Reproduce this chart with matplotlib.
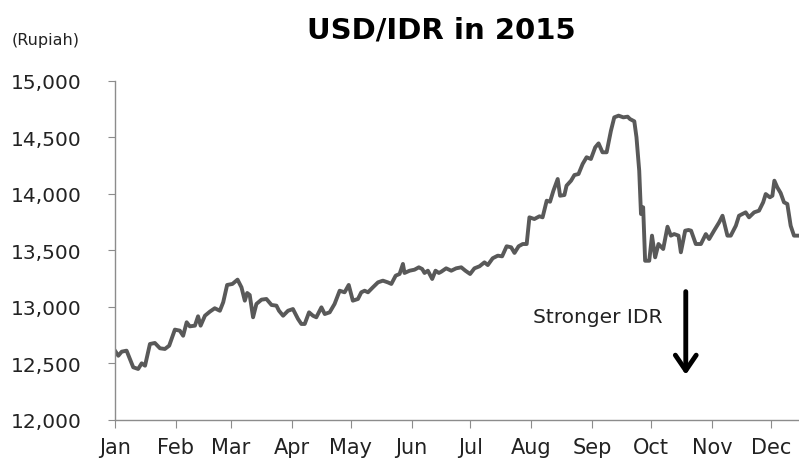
import matplotlib
matplotlib.use("Agg")
import matplotlib.pyplot as plt

# day of year (0 = 1 Jan 2015) and USD/IDR
days = [0, 1.7, 3.4, 5.9, 7.6, 9.3, 11.8, 13.6, 15.3, 17.8, 20.3, 22.9, 25.4, 27.6,
        30.5, 33.0, 34.7, 36.5, 38.1, 40.7, 42.3, 43.6, 45.8, 48.3, 50.8, 53.4, 55.1,
        57.1, 59.8, 62.4, 64.4, 66.1, 67.3, 68.6, 70.3, 72.0, 74.6, 77.1, 79.7, 82.2,
        83.5, 85.6, 88.1, 90.6, 93.2, 94.9, 96.6, 98.8, 100.8, 102.5, 105.1, 106.8,
        109.3, 111.8, 114.4, 116.9, 119.0, 121.1, 123.7, 125.4, 127.1, 128.8, 131.3,
        133.9, 136.4, 138.9, 140.7, 142.9, 144.9, 146.6, 147.4, 150.0, 152.5, 154.7,
        156.4, 157.6, 159.3, 161.5, 163.2, 164.9, 166.1, 168.6, 171.2, 173.7, 176.3,
        178.4, 180.8, 183.0, 185.6, 188.1, 189.8, 192.3, 194.9, 197.1, 199.4, 201.7,
        203.4, 205.5, 207.6, 209.6, 211.0, 213.5, 216.1, 217.7, 219.8, 221.5, 223.2,
        225.4, 226.6, 228.8, 229.9, 232.2, 233.9, 236.0, 238.1, 240.1, 242.3, 244.5,
        246.2, 248.2, 250.3, 252.5, 254.2, 256.4, 258.8, 261.0, 262.2, 264.4, 265.5,
        266.9, 267.8, 268.9, 269.9, 272.0, 273.4, 275.0, 276.7, 279.1, 281.3, 283.0,
        284.7, 286.9, 288.1, 290.3, 292.0, 293.3, 295.7, 298.3, 300.8, 302.5, 305.0,
        307.6, 309.3, 311.8, 313.5, 316.1, 317.7, 321.1, 322.8, 325.4, 327.9, 330.0,
        331.3, 333.4, 334.7, 335.7, 337.2, 338.9, 340.6, 342.3, 344.0, 345.7, 347.9]
usd_idr = [12613, 12568, 12604, 12613, 12540, 12466, 12451, 12501, 12480, 12672, 12681,
           12634, 12628, 12657, 12799, 12790, 12745, 12864, 12828, 12834, 12917, 12834,
           12922, 12958, 12988, 12966, 13041, 13194, 13203, 13241, 13173, 13055, 13123,
           13105, 12908, 13026, 13064, 13070, 13017, 13011, 12966, 12922, 12966, 12981,
           12893, 12849, 12849, 12952, 12922, 12908, 12996, 12937, 12952, 13026, 13143,
           13129, 13194, 13055, 13070, 13129, 13143, 13129, 13173, 13217, 13232, 13217,
           13203, 13276, 13291, 13380, 13300, 13320, 13329, 13350, 13335, 13300, 13320,
           13247, 13320, 13300, 13311, 13341, 13320, 13341, 13350, 13320, 13291, 13341,
           13359, 13394, 13370, 13430, 13453, 13447, 13536, 13527, 13477, 13536, 13556,
           13556, 13792, 13777, 13801, 13792, 13939, 13930, 14027, 14131, 13983, 13989,
           14072, 14116, 14166, 14175, 14264, 14323, 14308, 14411, 14446, 14367, 14367,
           14558, 14676, 14691, 14676, 14682, 14661, 14641, 14500, 14204, 13821, 13881,
           13408, 13408, 13630, 13438, 13556, 13512, 13709, 13630, 13644, 13630, 13483,
           13674, 13680, 13674, 13556, 13556, 13644, 13600, 13674, 13748, 13806, 13630,
           13630, 13718, 13806, 13836, 13792, 13836, 13851, 13925, 13998, 13969, 13983,
           14116, 14057, 14007, 13925, 13910, 13718, 13630, 13630]

month_starts = [0, 31, 59, 90, 120, 151, 181, 212, 243, 273, 304, 334]
month_labels = ["Jan", "Feb", "Mar", "Apr", "May", "Jun",
                "Jul", "Aug", "Sep", "Oct", "Nov", "Dec"]
y_ticks = [12000, 12500, 13000, 13500, 14000, 14500, 15000]

fig = plt.figure(figsize=(7.99, 4.64), dpi=100)
ax = fig.add_axes([0.1439, 0.0927, 0.8555, 0.7312])

ax.plot(days, usd_idr, color="#595959", lw=2.8, solid_joinstyle="round")

ax.set_xlim(0, 348)
ax.set_ylim(12000, 15000)
ax.set_xticks(month_starts)
ax.set_xticklabels(month_labels)
ax.set_yticks(y_ticks)
ax.set_yticklabels([f"{v:,}" for v in y_ticks])

for s in ["top", "right"]:
    ax.spines[s].set_visible(False)
for s in ["left", "bottom"]:
    ax.spines[s].set_color("#8c8c8c")
    ax.spines[s].set_linewidth(1)
ax.tick_params(axis="y", length=5, color="#8c8c8c", labelsize=14.5, pad=19,
               labelcolor="#222222")
ax.tick_params(axis="x", length=6, color="#8c8c8c", labelsize=15, pad=6,
               labelcolor="#222222")

fig.text(0.5526, 0.935, "USD/IDR in 2015", ha="center", va="center",
         fontsize=21, fontweight="bold", color="black")
fig.text(12 / 799, 1 - 41 / 464, "(Rupiah)", ha="left", va="center",
         fontsize=11.5, color="#222222")

ax.text(213, 12911, "Stronger IDR", ha="left", va="center", fontsize=14.5,
        color="#222222")
ax.annotate("", xy=(290.6, 12400), xytext=(290.6, 13135),
            arrowprops=dict(arrowstyle="->,head_length=1.1,head_width=0.75",
                            color="black", lw=3.5, shrinkA=0, shrinkB=0))

fig.savefig("out.png", dpi=100)
